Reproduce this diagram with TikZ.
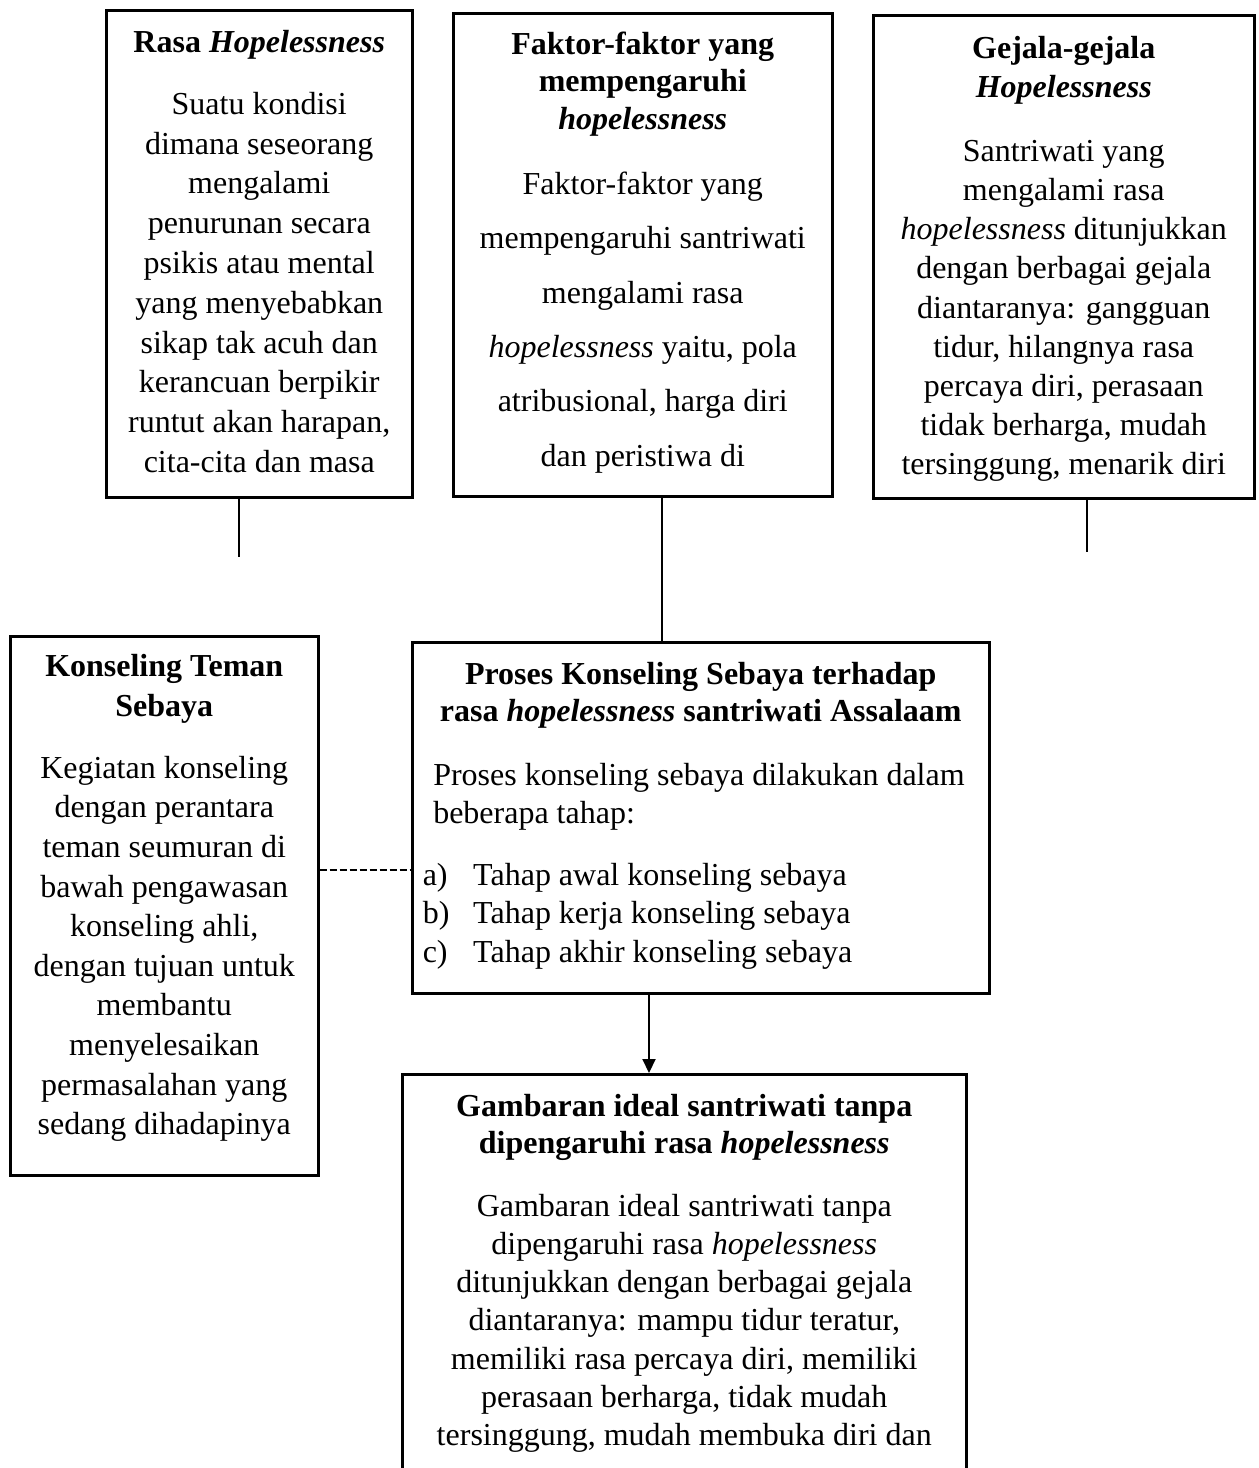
\documentclass[tikz,border=0pt]{standalone}
\usepackage{fontspec}
\setmainfont{Liberation Serif}
\usetikzlibrary{arrows.meta}
\newcommand{\fs}[1]{\fontsize{16pt}{#1}\selectfont}
\newcommand{\bx}[3]{\parbox[c][#2][t]{#1}{#3}}
\tikzset{
  boxnode/.style={draw, line width=1.25pt, inner sep=0pt, anchor=north west},
  conn/.style={line width=1pt},
  dashconn/.style={line width=0.8pt, dash pattern=on 3.5pt off 1.5pt},
  arrowconn/.style={line width=1pt, -{Triangle[width=6.5pt,length=7pt]}},
}
\begin{document}
\begin{tikzpicture}[x=0.5pt,y=-0.5pt]
\useasboundingbox (0,0) rectangle (1259,1468);
\fill[white] (0,0) rectangle (1259,1468);
\clip (0,0) rectangle (1259,1468);

\node[boxnode] (b1) at (105,9) {\bx{153pt}{243.5pt}{\centering\fs{19.9pt}%
\rule{0pt}{21pt}\textbf{Rasa \textit{Hopelessness}}\par
\vspace{11.1pt}%
Suatu kondisi\\
dimana seseorang\\
mengalami\\
penurunan secara\\
psikis atau mental\\
yang menyebabkan\\
sikap tak acuh dan\\
kerancuan berpikir\\
runtut akan harapan,\\
cita-cita dan masa\par}};

\node[boxnode] (b2) at (452,12) {\bx{189.5pt}{241.5pt}{\centering\fs{18.75pt}%
\rule{0pt}{20.5pt}\textbf{Faktor-faktor yang}\\
\textbf{mempengaruhi}\\
\textbf{\textit{hopelessness}}\par
\fs{27.2pt}\vspace{5.3pt}%
Faktor-faktor yang\\
mempengaruhi santriwati\\
mengalami rasa\\
\textit{hopelessness} yaitu, pola\\
atribusional, harga diri\\
dan peristiwa di\par}};

\node[boxnode] (b3) at (872,14) {\bx{190.5pt}{241.5pt}{\centering\fs{19.5pt}%
\rule{0pt}{21.5pt}\textbf{Gejala-gejala}\\
\textbf{\textit{Hopelessness}}\par
\fs{19.6pt}\vspace{12.4pt}%
Santriwati yang\\
mengalami rasa\\
\textit{hopelessness} ditunjukkan\\
dengan berbagai gejala\\
diantaranya: gangguan\\
tidur, hilangnya rasa\\
percaya diri, perasaan\\
tidak berharga, mudah\\
tersinggung, menarik diri\par}};

\node[boxnode] (b4) at (9,635) {\bx{154pt}{269.5pt}{\centering\fs{20pt}%
\rule{0pt}{20pt}\textbf{Konseling Teman}\\
\textbf{Sebaya}\par
\fs{19.8pt}\vspace{11.2pt}%
Kegiatan konseling\\
dengan perantara\\
teman seumuran di\\
bawah pengawasan\\
konseling ahli,\\
dengan tujuan untuk\\
membantu\\
menyelesaikan\\
permasalahan yang\\
sedang dihadapinya\par}};

\node[boxnode] (b5) at (411,641) {\bx{288.5pt}{175.5pt}{{\centering\fs{18.5pt}%
\rule{0pt}{21pt}\textbf{Proses Konseling Sebaya terhadap}\\
\textbf{rasa \textit{hopelessness} santriwati Assalaam}\par}
\raggedright\fs{19pt}\vspace{13pt}%
\hspace*{10.5pt}Proses konseling sebaya dilakukan dalam\\
\hspace*{10.5pt}beberapa tahap:\par
\fs{19.25pt}\vspace{11.75pt}%
\hspace*{5.25pt}\makebox[25.25pt][l]{a)}Tahap awal konseling sebaya\\
\hspace*{5.25pt}\makebox[25.25pt][l]{b)}Tahap kerja konseling sebaya\\
\hspace*{5.25pt}\makebox[25.25pt][l]{c)}Tahap akhir konseling sebaya\par}};

\node[boxnode] (b6) at (401,1073) {\bx{282pt}{223.5pt}{\centering\fs{18.75pt}%
\rule{0pt}{21pt}\textbf{Gambaran ideal santriwati tanpa}\\
\textbf{dipengaruhi rasa \textit{hopelessness}}\par
\fs{19.1pt}\vspace{12.15pt}%
Gambaran ideal santriwati tanpa\\
dipengaruhi rasa \textit{hopelessness}\\
ditunjukkan dengan berbagai gejala\\
diantaranya: mampu tidur teratur,\\
memiliki rasa percaya diri, memiliki\\
perasaan berharga, tidak mudah\\
tersinggung, mudah membuka diri dan\par}};

\coordinate (e1) at (239,557);
\coordinate (e3) at (1087,552);
\coordinate (x2) at (662,0);
\coordinate (yd) at (0,870);
\coordinate (xa) at (649,0);

\draw[conn] (b1.south -| e1) -- (e1);
\draw[conn] (b3.south -| e3) -- (e3);
\draw[conn] (b2.south -| x2) -- (b5.north -| x2);
\draw[dashconn] (b4.east |- yd) -- (b5.west |- yd);
\draw[arrowconn] (b5.south -| xa) -- (b6.north -| xa);
\end{tikzpicture}
\end{document}
